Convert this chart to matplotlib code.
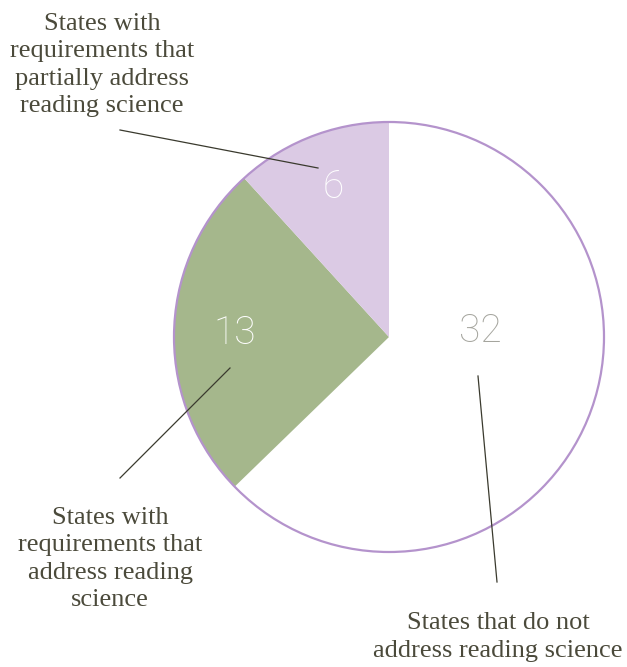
import matplotlib
matplotlib.use("Agg")
import matplotlib.pyplot as plt
from matplotlib.patches import Circle

categories = ["States that do not\naddress reading science",
              "States with\nrequirements that\naddress reading\nscience",
              "States with\nrequirements that\npartially address\nreading science"]
values = [32, 13, 6]
colors = ["#ffffff", "#a5b78c", "#dbcae4"]
num_colors = ["#a5a59e", "#ffffff", "#ffffff"]

W, H = 627, 667
fig = plt.figure(figsize=(W / 100, H / 100), dpi=100)
ax = fig.add_axes([0, 0, 1, 1])
ax.set_xlim(0, W)
ax.set_ylim(0, H)
ax.set_aspect("equal")
ax.axis("off")

def Y(y):
    return H - y

cx, cy, r = 389, Y(337), 215
ax.pie(values, colors=colors, startangle=90, counterclock=False,
       center=(cx, cy), radius=r, wedgeprops=dict(linewidth=0))
ax.set_xlim(0, W)
ax.set_ylim(0, H)
ax.add_patch(Circle((cx, cy), r, fill=False, edgecolor="#b493cc", linewidth=1.6))

# numbers
num_pos = [(480, 331), (235, 333), (333, 187)]
for v, (x, y), c in zip(values, num_pos, num_colors):
    ax.text(x, Y(y), str(v), ha="center", va="center", fontsize=28,
            color=c, family="Roboto", fontweight="light")

# leader lines and labels
tcol = "#4b4a3b"
lines = [((478, 376), (497, 582)), ((230, 368), (120, 478)), ((318, 168), (120, 130))]
text_pos = [(498, 637), (110, 559), (102, 65)]
for lab, (p0, p1), (tx, ty) in zip(categories, lines, text_pos):
    ax.plot([p0[0], p1[0]], [Y(p0[1]), Y(p1[1])], color="#3a3a2e", linewidth=0.9)
    ax.text(tx, Y(ty), lab, ha="center", va="center", fontsize=19,
            color=tcol, family="Liberation Serif", linespacing=1.3)

fig.savefig("out.png", dpi=100)
